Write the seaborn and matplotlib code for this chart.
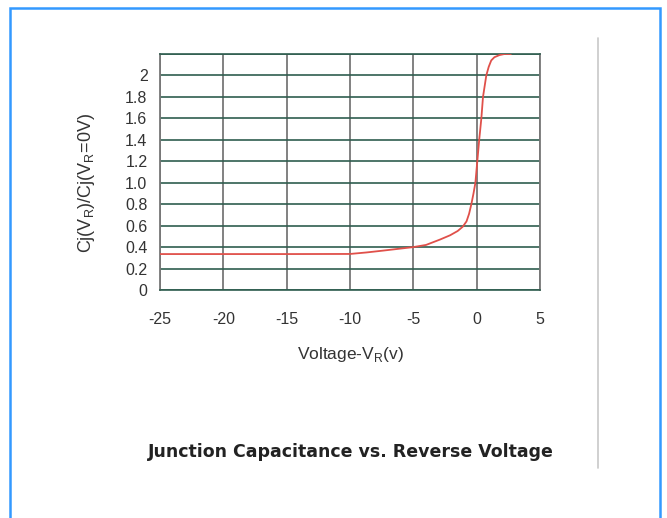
import matplotlib
matplotlib.use("Agg")
import matplotlib.pyplot as plt
import seaborn as sns
import pandas as pd
from matplotlib.patches import Rectangle
from matplotlib.lines import Line2D

# curve: reverse voltage vs normalised capacitance
voltage = [-25, -20, -15, -10, -8.7, -7.4, -5, -4, -2.9, -2.1, -1.5, -1.1, -0.8,
           -0.6, -0.42, -0.25, -0.1, 0.05, 0.2, 0.37, 0.5, 0.76, 0.95, 1.15, 1.4,
           1.8, 2.2, 2.7]
cap_ratio = [0.335, 0.335, 0.335, 0.336, 0.35, 0.367, 0.40, 0.42, 0.47, 0.51, 0.55,
             0.59, 0.64, 0.71, 0.8, 0.9, 1.0, 1.2, 1.4, 1.6, 1.8, 2.0, 2.08, 2.14,
             2.17, 2.19, 2.2, 2.2]

x_ticks = [-25, -20, -15, -10, -5, 0, 5]
y_ticks = [0, 0.2, 0.4, 0.6, 0.8, 1.0, 1.2, 1.4, 1.6, 1.8, 2.0, 2.2]
y_labels = ["0", "0.2", "0.4", "0.6", "0.8", "1.0", "1.2", "1.4", "1.6", "1.8", "2", ""]

df = pd.DataFrame({"V": voltage, "C": cap_ratio})

sns.set_style("white")
plt.rcParams["font.family"] = ["Liberation Sans", "DejaVu Sans"]
plt.rcParams["axes.unicode_minus"] = False

fig = plt.figure(figsize=(6.67, 5.18), dpi=100)
ax = fig.add_axes([160 / 667, 1 - 290 / 518, 380 / 667, 236 / 518])

sns.lineplot(data=df, x="V", y="C", ax=ax, color="#e0504a", linewidth=1.3,
             sort=False, zorder=5)

ax.set_xlim(-25, 5)
ax.set_ylim(0, 2.2)
ax.set_xticks(x_ticks)
ax.set_yticks(y_ticks)
ax.set_yticklabels(y_labels)
ax.tick_params(axis="both", length=0, labelsize=11.5, labelcolor="#333333")
ax.tick_params(axis="x", pad=16)
ax.tick_params(axis="y", pad=9)

# grid like the old excel-style picture
ax.xaxis.grid(True, color="#777777", linewidth=1.3)
ax.yaxis.grid(True, color="#2f5d4f", linewidth=1.2)
ax.set_axisbelow(True)
for side in ["left", "right"]:
    ax.spines[side].set_color("#777777")
    ax.spines[side].set_linewidth(1.3)
for side in ["top", "bottom"]:
    ax.spines[side].set_color("#2f5d4f")
    ax.spines[side].set_linewidth(1.2)

ax.set_xlabel(r"Voltage-V$_\mathregular{R}$(v)", fontsize=12.5, color="#333333",
              labelpad=13)
ax.set_ylabel(r"Cj(V$_\mathregular{R}$)/Cj(V$_\mathregular{R}$=0V)", fontsize=13,
              color="#333333")
ax.yaxis.set_label_coords(-0.165, 0.455)

fig.text(351 / 667, 1 - 452 / 518, "Junction Capacitance vs. Reverse Voltage",
         ha="center", va="center", fontsize=12.5, fontweight="bold",
         color="#222222", family=["DejaVu Sans"])

# blue frame and the gray divider on the right
fig.patches.append(Rectangle((10 / 667, -0.1), 650 / 667, 1 - 8 / 518 + 0.1,
                             transform=fig.transFigure, fill=False,
                             edgecolor="#3399ff", linewidth=1.8))
fig.lines.append(Line2D([598 / 667, 598 / 667], [1 - 38 / 518, 1 - 468 / 518],
                        transform=fig.transFigure, color="#c8c8c8", linewidth=1.2))

fig.savefig("out.png", dpi=100)
